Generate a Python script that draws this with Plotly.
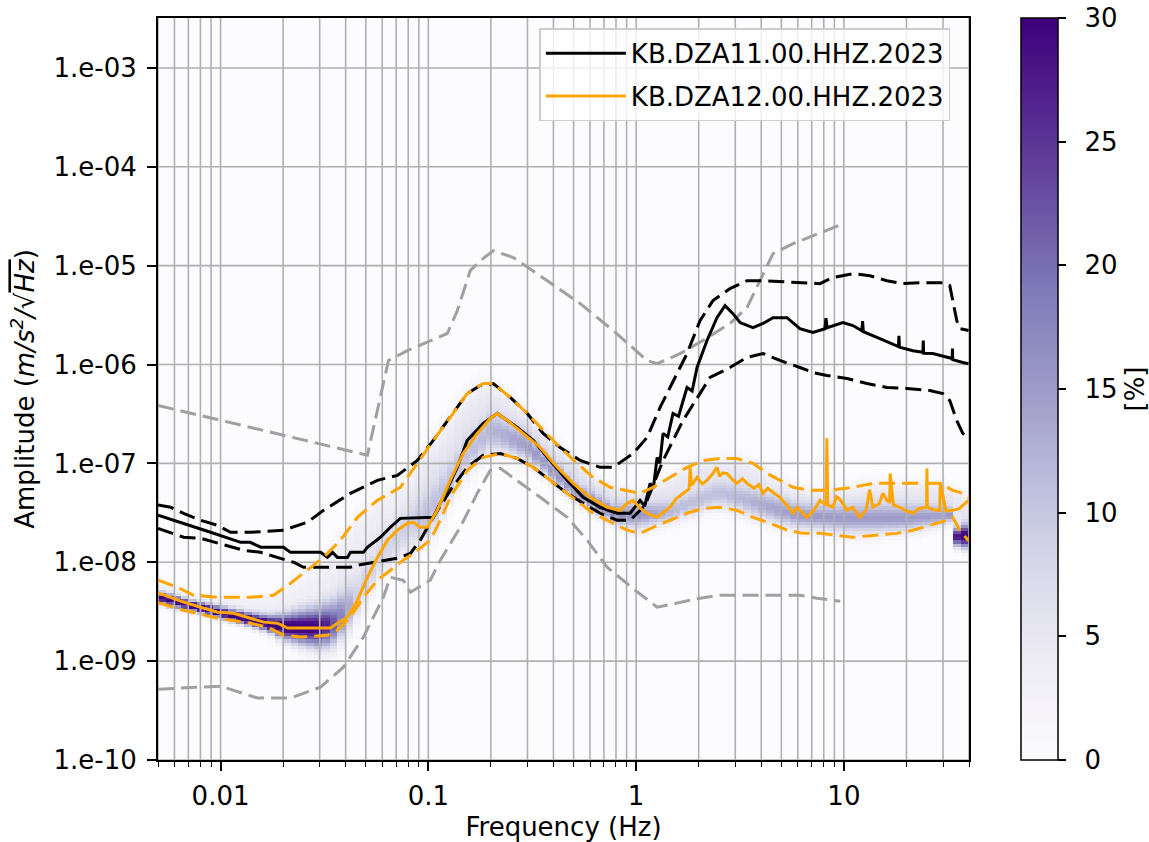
import numpy as np
import plotly.graph_objects as go

# ---------------- KB.DZA11.00.HHZ.2023 (black) ----------------
dza11_med_freq = [0.005, 0.00664, 0.00895, 0.0125, 0.0139, 0.0156, 0.0201, 0.0217, 0.0303, 0.0327,
                  0.0346, 0.0365, 0.0408, 0.0422, 0.0487, 0.0509, 0.0588, 0.0657, 0.0733, 0.1056,
                  0.118, 0.1378, 0.1539, 0.1837, 0.2147, 0.2679, 0.3199, 0.3859, 0.4659, 0.5561,
                  0.6711, 0.8103, 0.9358, 1.045, 1.10, 1.168, 1.21, 1.262, 1.30, 1.348,
                  1.42, 1.505, 1.60, 1.758, 1.86, 1.964, 2.194, 2.449, 2.679, 2.925,
                  3.162, 3.652, 4.081, 4.557, 5.323, 6.141, 7.092, 8.10, 8.20, 8.30,
                  9.89, 11.05, 12.2, 12.3, 12.4, 14.9, 17.99, 18.3, 18.4, 18.5,
                  21.48, 24.0, 24.1, 24.2, 26.77, 31.27, 33.2, 33.3, 33.4, 37.33, 39.8]
dza11_med_amp = [3.0e-8, 2.48e-8, 2.01e-8, 1.59e-8, 1.59e-8, 1.42e-8, 1.42e-8, 1.26e-8, 1.26e-8, 1.12e-8,
                 1.26e-8, 1.12e-8, 1.12e-8, 1.26e-8, 1.26e-8, 1.42e-8, 1.79e-8, 2.26e-8, 2.78e-8, 2.85e-8,
                 4.54e-8, 9.12e-8, 1.71e-7, 2.54e-7, 3.2e-7, 2.31e-7, 1.71e-7, 1.07e-7, 6.74e-8, 4.54e-8,
                 3.6e-8, 3.13e-8, 3.13e-8, 4.23e-8, 3.7e-8, 6.28e-8, 5.6e-8, 1.15e-7, 1.0e-7, 2.01e-7,
                 1.85e-7, 3.2e-7, 3.0e-7, 5.86e-7, 5.4e-7, 9.33e-7, 1.75e-6, 2.98e-6, 3.94e-6, 3.27e-6,
                 2.66e-6, 2.36e-6, 2.6e-6, 2.98e-6, 2.98e-6, 2.31e-6, 2.11e-6, 2.3e-6, 2.95e-6, 2.36e-6,
                 2.66e-6, 2.48e-6, 2.2e-6, 2.75e-6, 2.15e-6, 1.83e-6, 1.56e-6, 1.52e-6, 1.95e-6, 1.5e-6,
                 1.38e-6, 1.33e-6, 1.75e-6, 1.3e-6, 1.29e-6, 1.18e-6, 1.15e-6, 1.45e-6, 1.12e-6, 1.05e-6, 1.02e-6]

dza11_hi_freq = [0.005, 0.00575, 0.00664, 0.00801, 0.00968, 0.01117, 0.01394, 0.0201, 0.02619, 0.03128,
                 0.04217, 0.05689, 0.07097, 0.08851, 0.1056, 0.1275, 0.1539, 0.1778, 0.2054, 0.2479,
                 0.2994, 0.3571, 0.4311, 0.538, 0.6711, 0.775, 0.9673, 1.129, 1.304, 1.456,
                 1.758, 2.03, 2.344, 2.83, 3.417, 3.948, 7.666, 8.855, 11.05, 13.34,
                 16.1, 19.23, 23.19, 29.92, 32.33, 33.42, 34.93, 36.11, 39.8]
dza11_hi_amp = [3.8e-8, 3.6e-8, 3.13e-8, 2.66e-8, 2.36e-8, 2.01e-8, 2.01e-8, 2.11e-8, 2.54e-8, 3.35e-8,
                4.98e-8, 6.74e-8, 7.57e-8, 1.07e-7, 1.71e-7, 2.92e-7, 5.09e-7, 6.14e-7, 6.43e-7, 4.64e-7,
                3.2e-7, 2.01e-7, 1.45e-7, 1.07e-7, 9.12e-8, 9.12e-8, 1.26e-7, 1.83e-7, 3.68e-7, 5.86e-7,
                1.29e-6, 2.78e-6, 4.43e-6, 5.86e-6, 7.05e-6, 7.05e-6, 6.58e-6, 7.6e-6, 8.3e-6, 7.9e-6,
                7.05e-6, 6.58e-6, 6.73e-6, 6.73e-6, 6.28e-6, 4.43e-6, 2.78e-6, 2.31e-6, 2.21e-6]

dza11_lo_freq = [0.005, 0.00664, 0.00801, 0.00968, 0.01291, 0.01556, 0.0188, 0.02245, 0.02507, 0.04217,
                 0.04557, 0.07097, 0.08191, 0.09148, 0.1056, 0.1275, 0.1539, 0.1837, 0.2219, 0.2679,
                 0.3199, 0.3859, 0.4659, 0.5561, 0.6711, 0.8103, 0.9358, 1.105, 1.348, 1.682,
                 2.03, 2.268, 2.83, 3.417, 4.081, 4.925, 6.141, 7.092, 8.286, 10.34,
                 12.9, 16.1, 20.1, 25.9, 29.92, 32.33, 34.93, 37.33, 39.8]
dza11_lo_amp = [2.2e-8, 1.79e-8, 1.75e-8, 1.56e-8, 1.32e-8, 1.26e-8, 1.12e-8, 1.0e-8, 8.9e-9, 8.9e-9,
                9.33e-9, 1.1e-8, 1.23e-8, 1.67e-8, 2.85e-8, 5.34e-8, 9.12e-8, 1.21e-7, 1.26e-7, 1.12e-7,
                9.12e-8, 6.74e-8, 4.98e-8, 3.95e-8, 3.13e-8, 2.66e-8, 2.66e-8, 3.77e-8, 1.07e-7, 2.72e-7,
                5.09e-7, 7.39e-7, 9.33e-7, 1.18e-6, 1.29e-6, 1.10e-6, 9.33e-7, 8.3e-7, 7.74e-7, 7.22e-7,
                6.43e-7, 5.86e-7, 5.73e-7, 5.46e-7, 5.09e-7, 4.33e-7, 2.72e-7, 2.01e-7, 1.8e-7]

# ---------------- KB.DZA12.00.HHZ.2023 (orange) ----------------
dza12_med_freq = [0.005, 0.00664, 0.00801, 0.00968, 0.01155, 0.01394, 0.0161, 0.0188, 0.02101, 0.03381,
                  0.03651, 0.04081, 0.04557, 0.05091, 0.05689, 0.06353, 0.07097, 0.07925, 0.08465, 0.09148,
                  0.09886, 0.1104, 0.1275, 0.1472, 0.172, 0.1986, 0.2147, 0.2399, 0.2864, 0.3455,
                  0.4171, 0.498, 0.6008, 0.7254, 0.8376, 0.9052, 0.9673, 1.05, 1.129, 1.262,
                  1.38, 1.456, 1.56, 1.682, 1.80, 1.82, 1.85, 1.964, 2.08, 2.194,
                  2.33, 2.449, 2.52, 2.60, 2.738, 2.90, 3.059, 3.25, 3.417, 3.7,
                  3.9, 4.081, 4.3, 4.5, 4.925, 5.3, 5.689, 5.95, 6.2, 6.637,
                  7.2, 7.666, 8.20, 8.28, 8.36, 8.855, 9.2, 9.6, 10.34, 11.0,
                  11.94, 12.8, 13.3, 13.79, 14.8, 15.4, 16.1, 16.6, 16.7, 17.3,
                  18.6, 20.0, 21.48, 23.0, 25.0, 25.1, 25.2, 27.0, 28.94, 29.1,
                  31.0, 33.42, 36.0, 39.8]
dza12_med_amp = [4.9e-9, 3.95e-9, 3.51e-9, 3.13e-9, 3.05e-9, 2.72e-9, 2.48e-9, 2.42e-9, 2.16e-9, 2.16e-9,
                 2.42e-9, 2.78e-9, 4.13e-9, 7.05e-9, 1.12e-8, 1.67e-8, 2.11e-8, 2.48e-8, 2.54e-8, 2.26e-8,
                 2.26e-8, 3.35e-8, 6.74e-8, 1.26e-7, 2.01e-7, 2.85e-7, 3.2e-7, 2.72e-7, 2.01e-7, 1.45e-7,
                 9.12e-8, 6.28e-8, 4.54e-8, 3.6e-8, 3.35e-8, 3.95e-8, 4.23e-8, 3.5e-8, 3.13e-8, 2.85e-8,
                 3.3e-8, 3.6e-8, 4.4e-8, 4.98e-8, 5.5e-8, 9.1e-8, 6.0e-8, 7.22e-8, 6.2e-8, 6.74e-8,
                 7.8e-8, 9.12e-8, 7.4e-8, 8.0e-8, 7.92e-8, 6.9e-8, 6.28e-8, 7.0e-8, 6.28e-8, 5.6e-8,
                 6.1e-8, 4.98e-8, 5.6e-8, 5.2e-8, 4.54e-8, 3.8e-8, 3.13e-8, 3.6e-8, 3.3e-8, 2.85e-8,
                 3.4e-8, 4.23e-8, 3.8e-8, 1.8e-7, 3.8e-8, 3.6e-8, 4.6e-8, 4.3e-8, 3.35e-8, 3.6e-8,
                 2.85e-8, 3.4e-8, 5.4e-8, 3.6e-8, 3.9e-8, 5.0e-8, 4.23e-8, 4.0e-8, 7.9e-8, 3.8e-8,
                 3.6e-8, 3.3e-8, 3.13e-8, 3.5e-8, 3.6e-8, 8.9e-8, 3.6e-8, 3.4e-8, 3.35e-8, 6.4e-8,
                 3.3e-8, 3.35e-8, 3.5e-8, 4.23e-8]

dza12_hi_freq = [0.005, 0.00621, 0.00741, 0.00968, 0.01394, 0.01799, 0.02173, 0.02619, 0.03128, 0.03776,
                 0.04557, 0.05689, 0.07334, 0.08851, 0.1056, 0.1275, 0.1539, 0.1837, 0.2054, 0.2479,
                 0.2994, 0.3571, 0.4311, 0.5206, 0.621, 0.7499, 0.9052, 1.045, 1.207, 1.456,
                 1.758, 2.099, 2.532, 3.059, 3.652, 4.265, 4.925, 5.689, 6.861, 8.566,
                 11.05, 13.79, 17.99, 23.19, 28.94, 33.42, 37.33, 39.8]
dza12_hi_amp = [6.6e-9, 5.59e-9, 4.64e-9, 4.43e-9, 4.43e-9, 4.64e-9, 6.14e-9, 8.3e-9, 1.12e-8, 1.67e-8,
                2.85e-8, 4.23e-8, 5.73e-8, 1.0e-7, 1.71e-7, 2.92e-7, 5.09e-7, 6.43e-7, 6.43e-7, 4.64e-7,
                3.2e-7, 2.16e-7, 1.45e-7, 1.0e-7, 7.22e-8, 5.73e-8, 5.34e-8, 4.98e-8, 5.73e-8, 7.22e-8,
                9.12e-8, 1.07e-7, 1.12e-7, 1.12e-7, 1.0e-7, 7.92e-8, 6.74e-8, 5.73e-8, 5.34e-8, 5.34e-8,
                5.73e-8, 6.28e-8, 6.28e-8, 6.28e-8, 6.28e-8, 5.34e-8, 4.98e-8, 4.54e-8]

dza12_lo_freq = [0.005, 0.00664, 0.00968, 0.01394, 0.01683, 0.0201, 0.02426, 0.03268, 0.03651, 0.04217,
                 0.0487, 0.05689, 0.06566, 0.07579, 0.08851, 0.1022, 0.1142, 0.1275, 0.1539, 0.1837,
                 0.2219, 0.2679, 0.3199, 0.3859, 0.4659, 0.621, 0.775, 0.9052, 1.045, 1.207,
                 1.456, 1.758, 2.099, 2.532, 3.059, 3.652, 4.409, 5.323, 6.349, 7.666,
                 9.256, 11.05, 13.79, 17.99, 21.48, 25.9, 31.27, 33.42, 36.11, 39.8]
dza12_lo_amp = [3.9e-9, 3.27e-9, 2.72e-9, 2.42e-9, 2.21e-9, 1.83e-9, 1.75e-9, 1.83e-9, 2.06e-9, 2.78e-9,
                4.43e-9, 6.58e-9, 8.3e-9, 1.05e-8, 1.32e-8, 1.67e-8, 2.66e-8, 4.54e-8, 8.5e-8, 1.15e-7,
                1.26e-7, 1.12e-7, 9.12e-8, 6.74e-8, 4.98e-8, 3.13e-8, 2.48e-8, 2.11e-8, 1.96e-8, 2.26e-8,
                2.66e-8, 3.13e-8, 3.51e-8, 3.6e-8, 3.35e-8, 2.85e-8, 2.48e-8, 2.11e-8, 1.96e-8, 1.96e-8,
                1.87e-8, 1.79e-8, 1.87e-8, 1.96e-8, 2.11e-8, 2.36e-8, 2.66e-8, 2.85e-8, 2.11e-8, 1.65e-8]

# ---------------- reference noise models (grey dashed) ----------------
model_hi_freq = [0.005, 0.0509, 0.0643, 0.0793, 0.1234, 0.1378, 0.1591, 0.1778, 0.2054, 0.2562,
                 0.3734, 0.538, 0.775, 1.129, 1.262, 1.627, 2.099, 2.83, 3.417, 3.948,
                 4.557, 5.689, 7.666, 9.892]
model_hi_amp = [3.86e-7, 1.21e-7, 1.10e-6, 1.38e-6, 2.06e-6, 3.5e-6, 8.9e-6, 1.12e-5, 1.42e-5, 1.21e-5,
                7.05e-6, 4.13e-6, 2.21e-6, 1.10e-6, 1.02e-6, 1.29e-6, 1.75e-6, 2.6e-6, 3.77e-6, 7.05e-6,
                1.32e-5, 1.67e-5, 2.15e-5, 2.65e-5]

model_lo_freq = [0.005, 0.01, 0.01507, 0.02173, 0.03027, 0.03902, 0.0487, 0.06076, 0.06566, 0.07579,
                 0.08191, 0.1022, 0.1142, 0.1424, 0.172, 0.1986, 0.2219, 0.2679, 0.3455, 0.4659,
                 0.5814, 0.7254, 0.989, 1.262, 2.03, 2.532, 6.141, 7.41, 9.6]
model_lo_amp = [5.2e-10, 5.58e-10, 4.23e-10, 4.23e-10, 5.46e-10, 8.69e-10, 1.75e-9, 4.43e-9, 7.05e-9, 6.58e-9,
                4.98e-9, 6.58e-9, 1.05e-8, 2.26e-8, 4.98e-8, 8.5e-8, 8.9e-8, 6.74e-8, 4.54e-8, 2.85e-8,
                1.67e-8, 8.9e-9, 5.21e-9, 3.51e-9, 4.33e-9, 4.64e-9, 4.64e-9, 4.33e-9, 4.03e-9]

# ---------------- probability density ridge of DZA12 ----------------
ridge_freq = [0.005, 0.01, 0.02, 0.03, 0.036, 0.045, 0.06, 0.08, 0.1, 0.15,
              0.2, 0.3, 0.5, 0.8, 1.0, 1.5, 2.5, 4, 6, 10,
              20, 30, 33, 35, 40]
ridge_amp = [4.4e-9, 3.1e-9, 2.2e-9, 2.15e-9, 2.4e-9, 4e-9, 1.2e-8, 2.4e-8, 3e-8, 1.1e-7,
             2.2e-7, 1.5e-7, 5.2e-8, 3e-8, 3e-8, 3.2e-8, 5e-8, 3.8e-8, 3e-8, 2.8e-8,
             2.8e-8, 2.9e-8, 3e-8, 1.8e-8, 1.8e-8]
ridge_pct = [28, 30, 30, 28, 18, 6, 4, 5, 6, 6,
             7, 9, 10, 11, 10, 7, 6, 8, 10, 10,
             10, 10, 12, 28, 30]
halo_pct = [3, 3, 3, 3, 4, 4, 4, 4, 5, 5,
            5, 6, 6, 6, 6, 5, 5, 5, 5, 5,
            5, 5, 5, 5, 5]

# axis tick values and labels
x_major = [0.01, 0.1, 1, 10]
x_major_text = ["0.01", "0.1", "1", "10"]
y_major = [1e-10, 1e-9, 1e-8, 1e-7, 1e-6, 1e-5, 1e-4, 1e-3]
y_major_text = ["1.e-10", "1.e-09", "1.e-08", "1.e-07", "1.e-06", "1.e-05", "1.e-04", "1.e-03"]
cbar_ticks = [0, 5, 10, 15, 20, 25, 30]

F_MIN, F_MAX = 0.005, 40.0
A_MIN_LOG, A_MAX_LOG = -10.0, -2.495
FS = 26

# ---- density grid (percent of observations per amplitude bin) ----
x_edges = np.logspace(np.log10(F_MIN), np.log10(F_MAX), 105)
y_edges = np.logspace(A_MIN_LOG, A_MAX_LOG, 241)
lx = 0.5 * (np.log10(x_edges[:-1]) + np.log10(x_edges[1:]))
ly = 0.5 * (np.log10(y_edges[:-1]) + np.log10(y_edges[1:]))


def log_interp(freq, amp):
    return np.interp(lx, np.log10(freq), np.log10(amp))


ridge = log_interp(ridge_freq, ridge_amp)
upper = log_interp(dza12_hi_freq, dza12_hi_amp)
lower = log_interp(dza12_lo_freq, dza12_lo_amp)
peak = np.interp(lx, np.log10(ridge_freq), ridge_pct)
halo = np.interp(lx, np.log10(ridge_freq), halo_pct)
width = np.maximum(0.03, 0.18 * (upper - lower))
centre = 0.5 * (upper + lower)
half = 0.5 * (upper - lower) + 0.02

LY = ly[:, None]
density = peak * np.exp(-0.5 * ((LY - ridge) / width) ** 2) \
    + halo * np.exp(-((LY - centre) / half) ** 4)
density = np.clip(density, 0, 30)

fig = go.Figure()

fig.add_trace(go.Heatmap(
    x=x_edges, y=y_edges, z=density,
    colorscale="Purples", zmin=0, zmax=30, hoverinfo="skip", showlegend=False,
    colorbar=dict(
        x=1.0641, xanchor="left", xpad=0, ypad=0,
        y=0.5, yanchor="middle", len=1, lenmode="fraction",
        thickness=37, thicknessmode="pixels",
        outlinecolor="black", outlinewidth=1.5,
        ticks="outside", ticklen=8, tickwidth=1.5, tickcolor="black",
        tickvals=cbar_ticks, ticktext=["\u2002" + str(v) for v in cbar_ticks],
        tickfont=dict(size=FS, color="black"),
        title=dict(text="[%]", side="right", font=dict(size=FS, color="black")),
    ),
))

# grid drawn over the density mesh but beneath the curves
GRID = "#b0b0b0"
x_minor = [m * 10.0 ** e for e in range(-3, 2) for m in range(2, 10)
           if F_MIN * 0.999 < m * 10.0 ** e < F_MAX * 1.001]
gx, gy = [], []
for xv in sorted(x_major + x_minor):
    gx += [xv, xv, None]
    gy += [10 ** A_MIN_LOG, 10 ** A_MAX_LOG, None]
for yv in y_major:
    gx += [F_MIN, F_MAX, None]
    gy += [yv, yv, None]
fig.add_trace(go.Scatter(x=gx, y=gy, mode="lines", line=dict(color=GRID, width=1.6),
                         showlegend=False, hoverinfo="skip"))

GREY = "#a0a0a0"
DASH = "16px,7px"
LW = 3

fig.add_trace(go.Scatter(x=model_hi_freq, y=model_hi_amp, mode="lines",
                         line=dict(color=GREY, width=LW, dash=DASH), showlegend=False, hoverinfo="skip"))
fig.add_trace(go.Scatter(x=model_lo_freq, y=model_lo_amp, mode="lines",
                         line=dict(color=GREY, width=LW, dash=DASH), showlegend=False, hoverinfo="skip"))

fig.add_trace(go.Scatter(x=dza11_med_freq, y=dza11_med_amp, mode="lines", name="KB.DZA11.00.HHZ.2023",
                         legendgroup="a", line=dict(color="black", width=LW)))
fig.add_trace(go.Scatter(x=dza11_hi_freq, y=dza11_hi_amp, mode="lines", legendgroup="a", showlegend=False,
                         line=dict(color="black", width=LW, dash=DASH)))
fig.add_trace(go.Scatter(x=dza11_lo_freq, y=dza11_lo_amp, mode="lines", legendgroup="a", showlegend=False,
                         line=dict(color="black", width=LW, dash=DASH)))

ORANGE = "#ffa500"
fig.add_trace(go.Scatter(x=dza12_med_freq, y=dza12_med_amp, mode="lines", name="KB.DZA12.00.HHZ.2023",
                         legendgroup="b", line=dict(color=ORANGE, width=LW)))
fig.add_trace(go.Scatter(x=dza12_hi_freq, y=dza12_hi_amp, mode="lines", legendgroup="b", showlegend=False,
                         line=dict(color=ORANGE, width=LW, dash=DASH)))
fig.add_trace(go.Scatter(x=dza12_lo_freq, y=dza12_lo_amp, mode="lines", legendgroup="b", showlegend=False,
                         line=dict(color=ORANGE, width=LW, dash=DASH)))

fig.update_xaxes(
    type="log", range=[np.log10(F_MIN), np.log10(F_MAX)],
    tickmode="array", tickvals=x_major, ticktext=x_major_text,
    ticks="outside", ticklen=9, tickwidth=1.5, tickcolor="black",
    showline=True, linecolor="black", linewidth=2, mirror=True,
    showgrid=False, zeroline=False,
    minor=dict(tickmode="array", tickvals=x_minor, ticks="outside", ticklen=5, tickwidth=1.2,
               tickcolor="black", showgrid=False),
    tickfont=dict(size=FS, color="black"), ticklabelstandoff=3,
    title=dict(text="Frequency (Hz)", standoff=8, font=dict(size=FS, color="black")),
)
fig.update_yaxes(
    type="log", range=[A_MIN_LOG, A_MAX_LOG],
    tickmode="array", tickvals=y_major, ticktext=y_major_text,
    ticks="outside", ticklen=9, tickwidth=1.5, tickcolor="black",
    showline=True, linecolor="black", linewidth=2, mirror=True,
    showgrid=False, zeroline=False,
    tickfont=dict(size=FS, color="black"), ticklabelstandoff=5,
    title=dict(text='Amplitude (<i>m/s<sup>2</sup>/</i>√<span style="text-decoration:overline"><i>Hz</i></span>)',
               standoff=11, font=dict(size=FS, color="black")),
)

fig.update_layout(
    width=1149, height=842,
    margin=dict(l=158, r=180, t=18, b=82, autoexpand=False),
    paper_bgcolor="white", plot_bgcolor="#fcfbfd",
    font=dict(family="DejaVu Sans", size=FS, color="black"),
    legend=dict(x=0.977, xanchor="right", y=0.986, yanchor="top",
                bgcolor="rgba(255,255,255,0.8)", bordercolor="#cccccc", borderwidth=1.5,
                font=dict(size=FS, color="black"), tracegroupgap=6, itemwidth=80),
    showlegend=True,
)

fig.write_html("out.html")
